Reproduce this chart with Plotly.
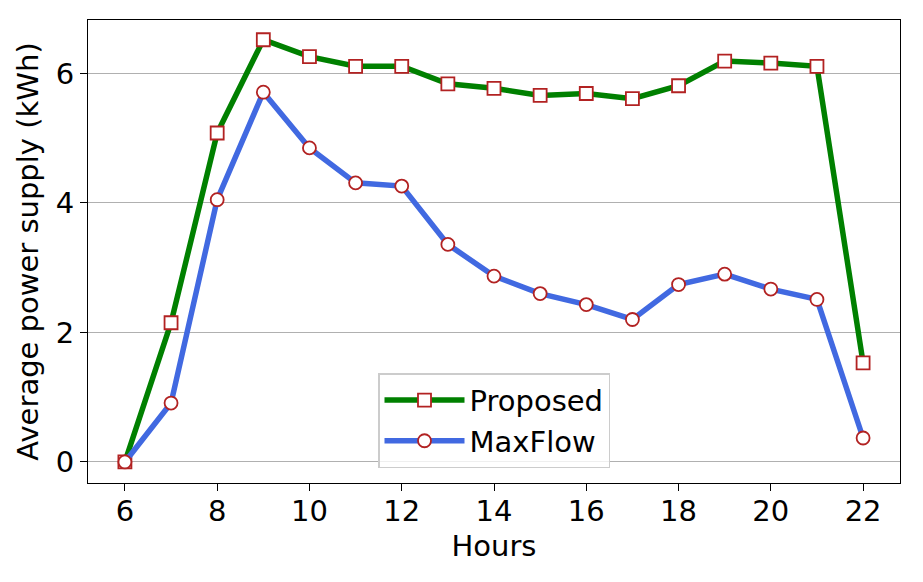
import plotly.graph_objects as go

hours = list(range(6, 23))
proposed = [0, 2.15, 5.08, 6.52, 6.26, 6.11, 6.11, 5.84, 5.77, 5.66, 5.69, 5.61, 5.81, 6.19, 6.16, 6.11, 1.53]
maxflow = [0, 0.91, 4.05, 5.71, 4.85, 4.31, 4.26, 3.36, 2.87, 2.60, 2.43, 2.20, 2.74, 2.90, 2.67, 2.51, 0.37]

fig = go.Figure()
fig.add_trace(go.Scatter(
    x=hours, y=proposed, name="Proposed", mode="lines+markers",
    line=dict(color="green", width=5.5),
    marker=dict(symbol="square", size=13, color="white", line=dict(color="#b22222", width=1.8)),
))
fig.add_trace(go.Scatter(
    x=hours, y=maxflow, name="MaxFlow", mode="lines+markers",
    line=dict(color="royalblue", width=5.5),
    marker=dict(symbol="circle", size=13, color="white", line=dict(color="#b22222", width=1.8)),
))

font = "DejaVu Sans, sans-serif"
fs = 29
fig.update_layout(
    width=923, height=582,
    margin=dict(l=88, r=23, t=20, b=99),
    plot_bgcolor="white", paper_bgcolor="white",
    font=dict(family=font, size=fs, color="black"),
    xaxis=dict(
        range=[5.2, 22.8], tickmode="array", tickvals=list(range(6, 23, 2)),
        showgrid=False, zeroline=False, showline=True, linecolor="black", linewidth=1.2,
        mirror=True, ticks="outside", ticklen=7, tickcolor="black", ticklabelstandoff=-5,
        tickfont=dict(size=fs), title=dict(text="Hours", font=dict(size=fs), standoff=8),
    ),
    yaxis=dict(
        range=[-0.325, 6.825], tickmode="array", tickvals=[0, 2, 4, 6],
        showgrid=True, gridcolor="#b0b0b0", gridwidth=1, zeroline=False,
        showline=True, linecolor="black", linewidth=1.2, mirror=True,
        ticks="outside", ticklen=7, tickcolor="black",
        tickfont=dict(size=fs),
        title=dict(text="Average power supply (kWh)", font=dict(size=fs), standoff=8),
    ),
    legend=dict(
        x=0.5, y=0.032, xanchor="center", yanchor="bottom",
        bgcolor="rgba(255,255,255,0.8)", bordercolor="#cccccc", borderwidth=1.5,
        font=dict(size=fs), itemwidth=80, tracegroupgap=6,
    ),
    showlegend=True,
)

fig.write_html("out.html")
